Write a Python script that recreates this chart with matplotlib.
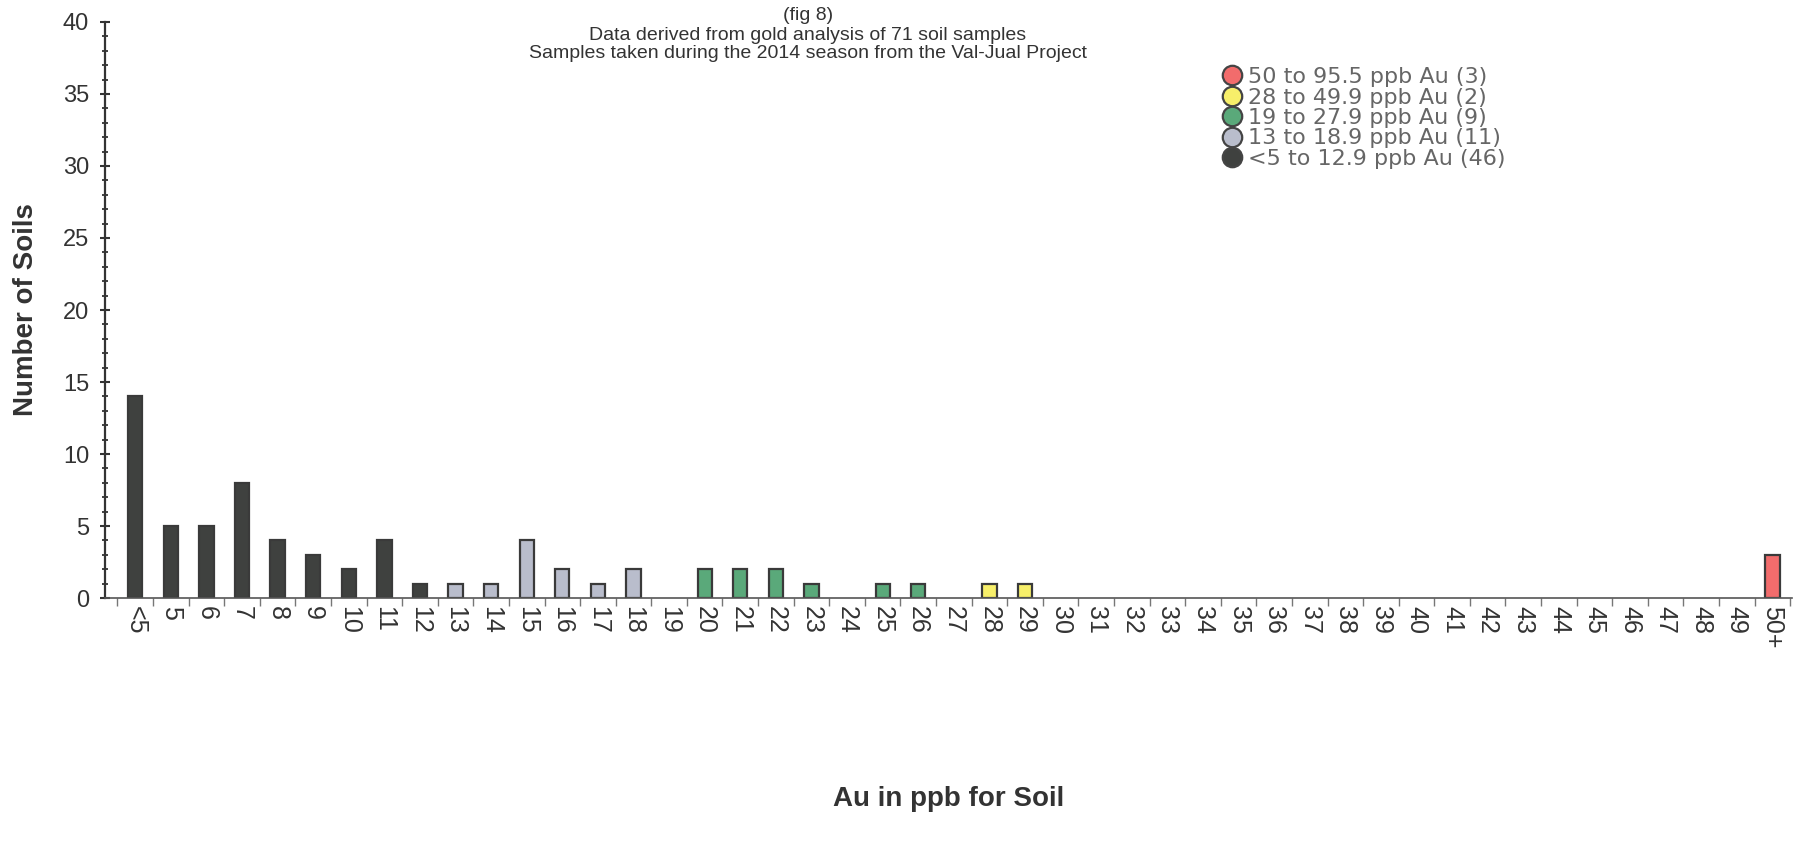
import numpy as np
import matplotlib.pyplot as plt
from matplotlib.lines import Line2D

plt.rcParams['font.family'] = ['Liberation Sans', 'DejaVu Sans']

# categories and counts
labels = ["<5"] + [str(v) for v in range(5, 50)] + ["50+"]
counts = [14, 5, 5, 8, 4, 3, 2, 4, 1,      # <5 .. 12
          1, 1, 4, 2, 1, 2,                # 13 .. 18
          0, 2, 2, 2, 1, 0, 1, 1,          # 19 .. 26
          0, 1, 1] + [0] * 20 + [3]        # 27 .. 49, 50+

groups = ["<5 to 12.9 ppb Au (46)", "13 to 18.9 ppb Au (11)",
          "19 to 27.9 ppb Au (9)", "28 to 49.9 ppb Au (2)",
          "50 to 95.5 ppb Au (3)"]
group_cols = ["#3f413f", "#b9bdcc", "#5aa97a", "#f7ef6a", "#f26c6c"]


def group_of(lab):
    if lab == "<5":
        return 0
    if lab == "50+":
        return 4
    v = int(lab)
    if v <= 12:
        return 0
    if v <= 18:
        return 1
    if v <= 27:
        return 2
    return 3


fig = plt.figure(figsize=(17.99, 8.47), dpi=100)
ax = fig.add_axes([105 / 1799, 1 - 598 / 847, (1792 - 105) / 1799, (598 - 22) / 847])

x = np.arange(len(labels))
cols = [group_cols[group_of(l)] for l in labels]
for xi, c, col in zip(x, counts, cols):
    if c > 0:
        ax.bar(xi, c, width=0.4, color=col, edgecolor="#3a3a3a", linewidth=1.6)

ax.set_xlim(-0.85, len(labels) - 0.45)
ax.set_ylim(0, 40)
ax.set_yticks(np.arange(0, 41, 5))
ax.set_yticks(np.arange(0, 41, 1), minor=True)
ax.tick_params(axis='y', which='major', length=7, width=1.5, labelsize=17,
               colors="#333333", direction='inout', pad=8)
ax.tick_params(axis='y', which='minor', length=5, width=1.3, direction='inout',
               colors="#333333")

ax.set_xticks(x)
ax.set_xticklabels(labels, rotation=-90, fontsize=18, color="#333333")
ax.set_xticks(np.arange(-0.5, len(labels), 1), minor=True)
ax.tick_params(axis='x', which='major', length=0, pad=6)
ax.tick_params(axis='x', which='minor', length=6, width=1.0, color="#777777")

for s in ["top", "right"]:
    ax.spines[s].set_visible(False)
ax.spines["left"].set_color("#333333")
ax.spines["left"].set_linewidth(1.6)
ax.spines["bottom"].set_color("#555555")
ax.spines["bottom"].set_linewidth(1.2)

ax.set_ylabel("Number of Soils", fontsize=20, fontweight='bold', color="#333333")
ax.yaxis.set_label_coords(-0.039, 0.5)
ax.set_xlabel("Au in ppb for Soil", fontsize=20, fontweight='bold', color="#333333")
ax.xaxis.set_label_coords(0.5, -0.326)

title_x = 0.449
fig.text(title_x, 1 - 15 / 847, "(fig 8)", ha='center', va='center', fontsize=14,
         color="#333333")
fig.text(title_x, 1 - 35 / 847, "Data derived from gold analysis of 71 soil samples",
         ha='center', va='center', fontsize=14, color="#333333")
fig.text(title_x, 1 - 54 / 847,
         "Samples taken during the 2014 season from the Val-Jual Project",
         ha='center', va='center', fontsize=14, color="#333333")

handles = []
for g, col in zip(groups[::-1], group_cols[::-1]):
    handles.append(Line2D([], [], marker='o', linestyle='none', markersize=14,
                          markerfacecolor=col, markeredgecolor="#444444",
                          markeredgewidth=1.6, label=g))
leg = ax.legend(handles=handles, loc='upper left', bbox_to_anchor=(0.654, 0.941),
                frameon=False, handletextpad=0.2, labelspacing=0.02,
                borderpad=0, handlelength=1.1,
                prop={'family': 'DejaVu Sans', 'size': 16})
for t in leg.get_texts():
    t.set_color("#666666")

fig.savefig("out.png", dpi=100)
